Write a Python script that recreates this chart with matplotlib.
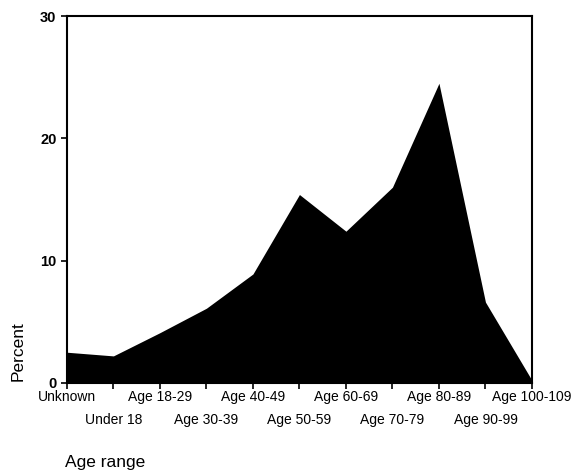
import numpy as np
import matplotlib.pyplot as plt

plt.rcParams['font.family'] = ['Liberation Sans', 'DejaVu Sans']

# age groups and the percent share in each
categories = ['Unknown', 'Under 18', 'Age 18-29', 'Age 30-39', 'Age 40-49',
              'Age 50-59', 'Age 60-69', 'Age 70-79', 'Age 80-89',
              'Age 90-99', 'Age 100-109']
percent = [2.5, 2.2, 4.1, 6.1, 8.9, 15.4, 12.4, 16.0, 24.5, 6.6, 0.2]
y_ticks = [0, 10, 20, 30]

fig = plt.figure(figsize=(5.72, 4.72), dpi=100)
ax = fig.add_axes([0.117, 0.189, 0.813, 0.777])

x = np.arange(len(categories))
ax.fill_between(x, percent, 0, color='black', linewidth=0)

ax.set_xlim(0, len(categories) - 1)
ax.set_ylim(0, 30)
ax.set_yticks(y_ticks)
ax.set_yticklabels([str(t) for t in y_ticks], fontsize=10.5, fontweight='bold')

# stagger the labels on two rows
ax.set_xticks(x)
ax.set_xticklabels([''] * len(categories))
for i, c in enumerate(categories):
    row = 0 if i % 2 == 0 else 1
    ax.annotate(c, xy=(i, 0), xycoords=('data', 'axes fraction'),
                xytext=(0, -14 - 23 * row), textcoords='offset pixels',
                ha='center', va='center', fontsize=10)

ax.tick_params(axis='both', direction='out', length=4, width=1.2, color='black')
for s in ax.spines.values():
    s.set_linewidth(1.5)

fig.text(0.032, 0.256, 'Percent', fontsize=12.5, rotation=90, ha='center', va='center')
fig.text(0.114, 0.02, 'Age range', fontsize=12.5, ha='left', va='center')

fig.savefig('out.png', dpi=100)
